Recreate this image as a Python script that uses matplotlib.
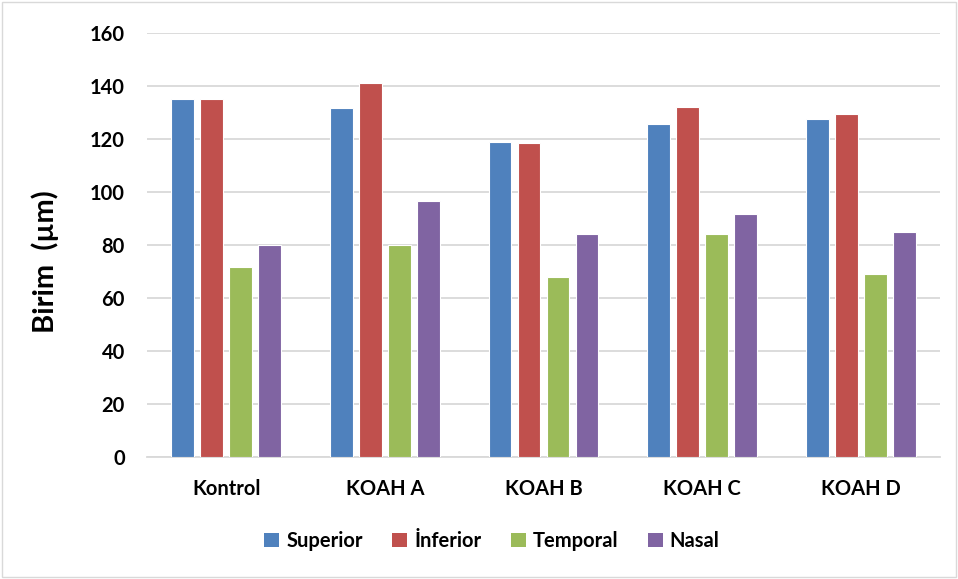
import matplotlib
matplotlib.use("Agg")
import matplotlib.pyplot as plt
from matplotlib.patches import Rectangle, Patch
import numpy as np

plt.rcParams['font.family'] = ['Lato', 'DejaVu Sans']

categories = ["Kontrol", "KOAH A", "KOAH B", "KOAH C", "KOAH D"]
series_names = ["Superior", "İnferior", "Temporal", "Nasal"]
superior = [135.1, 131.6, 118.9, 125.5, 127.7]
inferior = [135.0, 141.2, 118.5, 132.0, 129.5]
temporal = [71.6, 80.0, 67.9, 84.2, 69.2]
nasal = [80.0, 96.5, 84.2, 91.7, 84.8]
yticks = [0, 20, 40, 60, 80, 100, 120, 140, 160]
colors = ["#4F81BD", "#C0504D", "#9BBB59", "#8064A2"]

fig = plt.figure(figsize=(9.58, 5.79), dpi=100)
ax = fig.add_axes([147/958, 1 - 457/579, 793/958, 424/579])

x = np.arange(len(categories))
width = 0.143
step = 0.183
offsets = [-1.5 * step, -0.5 * step, 0.5 * step, 1.5 * step]
for vals, off, col, name in zip([superior, inferior, temporal, nasal], offsets, colors, series_names):
    ax.bar(x + off, vals, width=width, color=col, edgecolor="white", linewidth=0.8, label=name, zorder=3)

ax.set_xlim(-0.5, len(categories) - 0.5)
ax.set_ylim(0, 160)
ax.set_yticks(yticks)
ax.set_yticklabels([str(v) for v in yticks], fontsize=14.5, fontweight='bold')
ax.set_xticks(x)
ax.set_xticklabels(categories, fontsize=14.5, fontweight='bold')
ax.tick_params(axis='both', length=0)
ax.tick_params(axis='y', pad=16)
ax.tick_params(axis='x', pad=16)
ax.grid(axis='y', color='#D9D9D9', linewidth=1.3, zorder=0)
for s in ['top', 'right', 'left']:
    ax.spines[s].set_visible(False)
ax.spines['bottom'].set_color('#D9D9D9')
ax.spines['bottom'].set_linewidth(1.3)

fig.text(45/958, 1 - 262/579, "Birim  (µm)", rotation=90, ha='center', va='center',
         fontsize=21, fontweight='bold')

handles = [Patch(facecolor=c, edgecolor='none') for c in colors]
fig.legend(handles, series_names, loc='center', bbox_to_anchor=(492/958, 1 - 541/579),
           ncol=4, frameon=False, prop={'size': 14.5, 'weight': 'bold'},
           handlelength=0.75, handleheight=0.75, handletextpad=0.35, columnspacing=1.45)

fig.patches.append(Rectangle((2/958, 2/579), 954/958, 575/579, transform=fig.transFigure,
                             fill=False, edgecolor='#D9D9D9', linewidth=1.0))

fig.savefig("out.png", dpi=100)
